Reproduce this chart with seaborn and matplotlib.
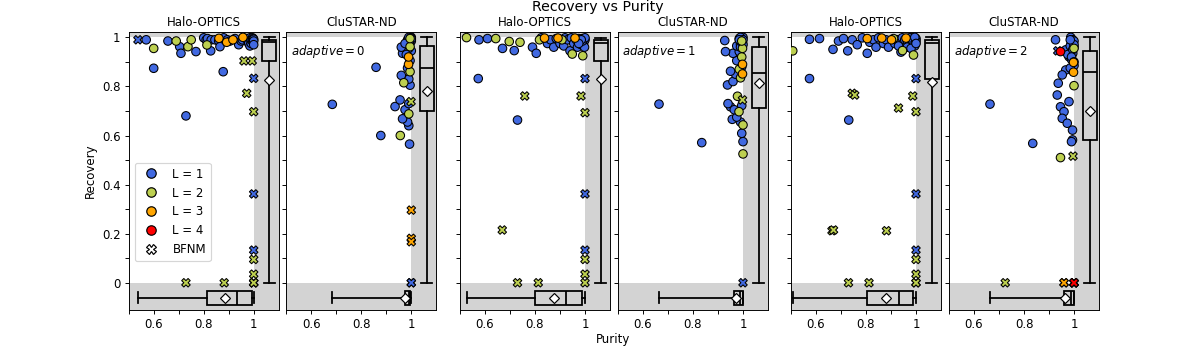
import numpy as np
import pandas as pd
import matplotlib.pyplot as plt
import seaborn as sns
from matplotlib.lines import Line2D

methods = ["Halo-OPTICS", "CluSTAR-ND"]
adaptive_values = [0, 1, 2]
level_labels = ["L = 1", "L = 2", "L = 3", "L = 4"]
level_colors = {1: "royalblue", 2: "#bdd050", 3: "orange", 4: "red"}

# (purity, recovery, level) -- matched clusters
halo0_points = [
    (0.570, 0.990, 1), (0.600, 0.874, 1), (0.729, 0.680, 1), (0.878, 0.860, 1),
    (0.657, 0.985, 1), (0.704, 0.962, 1), (0.709, 0.935, 1), (0.769, 0.942, 1),
    (0.800, 0.998, 1), (0.810, 0.990, 1), (0.815, 0.995, 1), (0.828, 0.945, 1),
    (0.830, 0.990, 1), (0.845, 0.990, 1), (0.860, 0.985, 1), (0.865, 0.962, 1),
    (0.880, 0.998, 1), (0.895, 0.990, 1), (0.905, 0.985, 1), (0.925, 0.995, 1),
    (0.940, 0.970, 1), (0.950, 0.985, 1), (0.955, 0.990, 1), (0.970, 0.995, 1),
    (0.975, 0.990, 1), (0.980, 0.975, 1), (0.985, 0.998, 1), (0.985, 0.965, 1),
    (0.990, 0.985, 1), (0.990, 0.975, 1), (0.990, 0.990, 1), (0.995, 0.998, 1),
    (0.995, 0.990, 1), (0.998, 0.980, 1), (0.998, 0.995, 1), (1.000, 0.992, 1),
    (1.000, 0.985, 1), (1.000, 0.970, 1),
    (0.600, 0.955, 2), (0.690, 0.985, 2), (0.737, 0.962, 2), (0.750, 0.990, 2),
    (0.813, 0.969, 2),
    (0.861, 0.996, 3), (0.892, 0.980, 3), (0.917, 0.990, 3), (0.957, 1.000, 3),
]
halo0_bfnm = [
    (0.537, 0.990, 1), (0.961, 0.904, 2), (0.994, 0.904, 2), (1.000, 0.833, 1),
    (0.972, 0.772, 2), (1.000, 0.697, 2), (1.000, 0.362, 1), (1.000, 0.133, 1),
    (1.000, 0.095, 2), (1.000, 0.035, 2), (1.000, 0.000, 2), (1.000, 0.000, 2),
    (1.000, 0.000, 2), (0.729, 0.000, 2), (0.882, 0.000, 2),
]

clustar0_points = [
    (0.859, 0.878, 1), (0.684, 0.727, 1), (0.878, 0.600, 1), (0.993, 0.565, 1),
    (0.956, 0.600, 2),
    (0.990, 0.640, 1), (0.985, 0.655, 1), (0.965, 0.668, 1), (0.990, 0.688, 2),
    (0.975, 0.705, 1), (0.935, 0.718, 1), (0.990, 0.730, 1), (0.955, 0.745, 1),
    (0.995, 0.805, 1), (0.970, 0.815, 2), (0.990, 0.830, 1), (0.960, 0.845, 1),
    (0.995, 0.860, 2), (0.985, 0.875, 1), (0.989, 0.890, 3), (0.995, 0.905, 1),
    (0.989, 0.920, 3), (0.985, 0.930, 1), (0.965, 0.935, 1), (1.000, 0.945, 1),
    (0.990, 0.955, 1), (0.975, 0.960, 1), (0.995, 0.962, 2), (0.985, 0.970, 1),
    (0.990, 0.975, 1), (0.995, 0.978, 1), (1.000, 0.985, 1), (0.985, 0.990, 1),
    (0.995, 0.995, 2), (1.000, 1.000, 1), (0.990, 1.000, 1), (0.998, 0.998, 1),
    (1.000, 0.993, 1), (0.992, 0.980, 1), (0.980, 0.930, 1), (0.960, 0.960, 1),
    (0.975, 0.975, 1),
]
clustar0_bfnm = [
    (1.000, 0.296, 3), (1.000, 0.181, 3), (1.000, 0.167, 3), (1.000, 0.000, 1),
    (1.000, 0.000, 1), (0.999, 0.738, 2),
]

halo1_points = [
    (0.573, 0.832, 1), (0.730, 0.663, 1),
    (0.526, 0.999, 2), (0.576, 0.990, 1), (0.610, 0.995, 1), (0.643, 0.995, 2),
    (0.670, 0.955, 1), (0.697, 0.983, 2), (0.717, 0.946, 1), (0.740, 0.980, 2),
    (0.790, 0.960, 1),
    (0.805, 0.935, 1), (0.818, 0.990, 2), (0.825, 0.998, 1), (0.838, 0.997, 3),
    (0.850, 0.975, 1), (0.862, 0.990, 1), (0.875, 0.960, 1), (0.885, 0.995, 1),
    (0.892, 0.997, 3), (0.900, 0.975, 1), (0.908, 0.990, 2), (0.915, 0.965, 1),
    (0.920, 0.998, 1),
    (0.940, 0.945, 1), (0.949, 0.932, 2), (0.960, 0.997, 3), (0.991, 0.925, 2),
    (0.930, 0.990, 1), (0.945, 0.998, 1), (0.955, 0.975, 1), (0.965, 0.990, 1),
    (0.970, 0.960, 1), (0.975, 0.995, 1), (0.980, 0.985, 1), (0.985, 0.970, 1),
    (0.990, 0.995, 1), (0.995, 0.980, 1), (1.000, 0.990, 1), (0.998, 0.960, 1),
    (0.990, 0.985, 1), (1.000, 0.998, 1), (0.985, 0.990, 1), (0.975, 0.975, 1),
]
halo1_bfnm = [
    (0.759, 0.761, 2), (0.669, 0.215, 2), (0.730, 0.000, 2), (0.813, 0.000, 2),
    (1.000, 0.832, 1), (0.984, 0.761, 2), (1.000, 0.693, 2), (1.000, 0.362, 1),
    (1.000, 0.133, 1), (1.000, 0.095, 2), (1.000, 0.035, 2), (1.000, 0.000, 2),
]

clustar1_points = [
    (0.664, 0.728, 1), (0.835, 0.571, 1), (1.000, 0.525, 2),
    (1.000, 0.575, 1), (0.995, 0.609, 1), (1.000, 0.643, 2), (0.957, 0.666, 1),
    (0.990, 0.655, 1), (0.975, 0.675, 1), (0.984, 0.697, 2), (0.950, 0.717, 1),
    (0.965, 0.705, 1), (0.940, 0.730, 1), (0.995, 0.722, 1), (0.978, 0.760, 2),
    (0.938, 0.806, 1), (0.960, 0.820, 1), (0.990, 0.835, 2), (0.998, 0.851, 3),
    (0.970, 0.850, 1), (0.950, 0.862, 1), (0.985, 0.870, 2), (0.995, 0.880, 1),
    (0.998, 0.890, 3), (0.975, 0.905, 1), (0.995, 0.920, 2), (0.960, 0.935, 1),
    (0.985, 0.942, 1), (0.930, 0.942, 1), (0.998, 0.955, 2), (0.975, 0.965, 1),
    (0.990, 0.972, 1), (0.927, 0.987, 1), (0.995, 0.985, 2), (0.985, 0.995, 1),
    (1.000, 1.000, 1), (0.990, 1.000, 1), (0.998, 0.978, 1), (1.000, 0.990, 1),
    (0.990, 0.960, 1), (1.000, 0.970, 1), (0.985, 0.990, 1),
]
clustar1_bfnm = [(1.000, 0.000, 1), (0.998, 0.745, 2)]

halo2_points = [
    (0.507, 0.945, 2), (0.574, 0.832, 1), (0.731, 0.663, 1),
    (0.574, 0.992, 1), (0.614, 0.995, 1), (0.668, 0.951, 1), (0.690, 0.985, 1),
    (0.710, 0.995, 1), (0.727, 0.945, 1), (0.745, 0.990, 1), (0.765, 0.970, 1),
    (0.785, 0.998, 1),
    (0.805, 0.995, 3), (0.805, 0.935, 1), (0.815, 0.980, 1), (0.830, 0.990, 1),
    (0.840, 0.960, 1), (0.850, 0.998, 1), (0.863, 0.997, 3), (0.870, 0.975, 1),
    (0.880, 0.990, 1), (0.890, 0.960, 1), (0.902, 0.990, 3), (0.910, 0.995, 2),
    (0.915, 0.975, 1), (0.925, 0.990, 1),
    (0.940, 0.940, 1), (0.946, 0.946, 2), (0.960, 0.997, 3), (0.990, 0.928, 2),
    (0.935, 0.985, 1), (0.945, 0.998, 1), (0.950, 0.975, 1), (0.955, 0.990, 1),
    (0.965, 0.985, 1), (0.970, 0.995, 1), (0.975, 0.970, 1), (0.980, 0.990, 1),
    (0.985, 0.998, 1), (0.990, 0.980, 1), (0.995, 0.990, 1), (1.000, 0.995, 1),
    (0.998, 0.975, 1), (0.990, 0.995, 1), (0.985, 0.985, 1), (0.975, 0.998, 1),
    (1.000, 0.985, 1), (0.995, 0.965, 1), (0.965, 0.960, 1), (0.980, 0.955, 1),
    (0.995, 1.000, 1), (1.000, 0.975, 1), (0.930, 0.965, 1),
]
halo2_bfnm = [
    (0.745, 0.772, 2), (0.755, 0.765, 2), (0.930, 0.712, 2), (0.987, 0.761, 2),
    (1.000, 0.697, 2), (1.000, 0.832, 1), (0.664, 0.212, 2), (0.670, 0.215, 2),
    (0.882, 0.212, 2), (0.730, 0.000, 2), (0.812, 0.000, 2), (1.000, 0.362, 1),
    (1.000, 0.133, 1), (1.000, 0.095, 2), (1.000, 0.035, 2), (1.000, 0.000, 2),
    (1.000, 0.000, 2),
]

clustar2_points = [
    (0.664, 0.728, 1), (0.835, 0.568, 1), (0.946, 0.510, 2), (0.946, 0.942, 4),
    (0.926, 0.990, 1), (0.987, 1.000, 1), (1.000, 0.955, 2), (0.998, 0.898, 3),
    (0.998, 0.858, 3), (1.000, 0.803, 2),
    (0.967, 0.949, 1), (0.980, 0.921, 1), (0.967, 0.867, 1), (0.953, 0.847, 1),
    (0.937, 0.813, 1), (0.933, 0.765, 1), (0.980, 0.738, 1), (0.946, 0.717, 1),
    (0.960, 0.697, 1), (0.953, 0.670, 1), (0.973, 0.650, 1), (0.994, 0.622, 1),
    (0.994, 0.582, 1), (0.990, 0.575, 1),
    (0.995, 0.990, 1), (1.000, 0.985, 1), (0.990, 0.975, 1), (0.985, 0.965, 1),
    (1.000, 0.960, 1), (0.995, 0.935, 1), (0.975, 0.930, 1), (0.990, 0.910, 1),
    (1.000, 0.885, 1), (0.985, 0.875, 1), (0.995, 0.950, 1), (1.000, 0.970, 1),
    (0.990, 0.920, 1), (0.985, 0.990, 1), (1.000, 0.900, 1),
]
clustar2_bfnm = [
    (0.996, 0.516, 2), (0.725, 0.000, 2), (0.960, 0.000, 3), (0.960, 0.000, 3),
    (1.000, 0.000, 1), (1.000, 0.000, 1), (0.935, 0.945, 1), (1.000, 0.000, 4),
    (1.000, 0.000, 4), (1.000, 0.000, 4),
]

panels = [
    (halo0_points, halo0_bfnm), (clustar0_points, clustar0_bfnm),
    (halo1_points, halo1_bfnm), (clustar1_points, clustar1_bfnm),
    (halo2_points, halo2_bfnm), (clustar2_points, clustar2_bfnm),
]

W, H = 1196, 347
fig = plt.figure(figsize=(W / 85, H / 85), dpi=85)
lefts = [128.7, 286.3, 460, 618, 791, 949]
axes = [fig.add_axes([l / W, 37 / H, 150 / W, 278.3 / H]) for l in lefts]

box_kw = dict(
    whis=(0, 100), showmeans=True, patch_artist=True, manage_ticks=False,
    widths=0.056, capwidths=0.045,
    boxprops=dict(facecolor="lightgray", edgecolor="black", linewidth=1.5),
    medianprops=dict(color="black", linewidth=1.5),
    whiskerprops=dict(color="black", linewidth=1.5),
    capprops=dict(color="black", linewidth=1.5),
    meanprops=dict(marker="D", markerfacecolor="white", markeredgecolor="black",
                   markersize=6),
)

cols = ["purity", "recovery", "level"]
for i, ax in enumerate(axes):
    pts, bf = panels[i]
    df = pd.concat([pd.DataFrame(pts, columns=cols).assign(bfnm=False),
                    pd.DataFrame(bf, columns=cols).assign(bfnm=True)],
                   ignore_index=True)
    df = df.sort_values(["level", "bfnm"], kind="stable")

    # shaded "out of range" strips
    ax.axvspan(1, 1.2, color="lightgray", lw=0, zorder=0)
    ax.axhspan(1, 1.2, color="lightgray", lw=0, zorder=0)
    ax.axhspan(-0.2, 0, color="lightgray", lw=0, zorder=0)

    sns.scatterplot(data=df, x="purity", y="recovery", hue="level",
                    palette=level_colors, style="bfnm",
                    markers={False: "o", True: "X"}, s=52,
                    edgecolor="black", linewidth=0.9, legend=False,
                    ax=ax, zorder=3)

    ax.boxplot(df["purity"], positions=[-0.062], orientation="horizontal", **box_kw)
    ax.boxplot(df["recovery"], positions=[1.062], **box_kw)

    ax.set_xlim(0.5, 1.1)
    ax.set_ylim(-0.111, 1.023)
    ax.set_xticks(np.arange(0.5, 1.01, 0.1))
    ax.set_xticklabels(["", "0.6", "", "0.8", "", "1"])
    ax.set_yticks(np.arange(0, 1.01, 0.1))
    if i == 0:
        ax.set_yticklabels(["0", "", "0.2", "", "0.4", "", "0.6", "", "0.8", "", "1"])
        ax.set_ylabel("Recovery")
    else:
        ax.set_yticklabels([])
        ax.set_ylabel("")
    ax.set_xlabel("")
    ax.set_title(methods[i % 2], fontsize=10, pad=5)
    if i % 2 == 1:
        ax.text(0.03, 0.928, r"$\mathit{adaptive} = %d$" % adaptive_values[i // 2],
                transform=ax.transAxes, va="center", fontsize=10)

handles = [Line2D([], [], ls="", marker="o", markersize=8, markerfacecolor=level_colors[k],
                  markeredgecolor="black") for k in [1, 2, 3, 4]]
handles.append(Line2D([], [], ls="", marker="X", markersize=8, markerfacecolor="white",
                      markeredgecolor="black"))
axes[0].legend(handles, level_labels + ["BFNM"], loc="lower left",
               bbox_to_anchor=(0.0, 0.155), fontsize=10)

fig.suptitle("Recovery vs Purity", fontsize=12, y=1.0)
fig.text(613 / W, 1 - 339 / H, "Purity", ha="center", va="center", fontsize=10)

fig.savefig("out.png", dpi=85)
